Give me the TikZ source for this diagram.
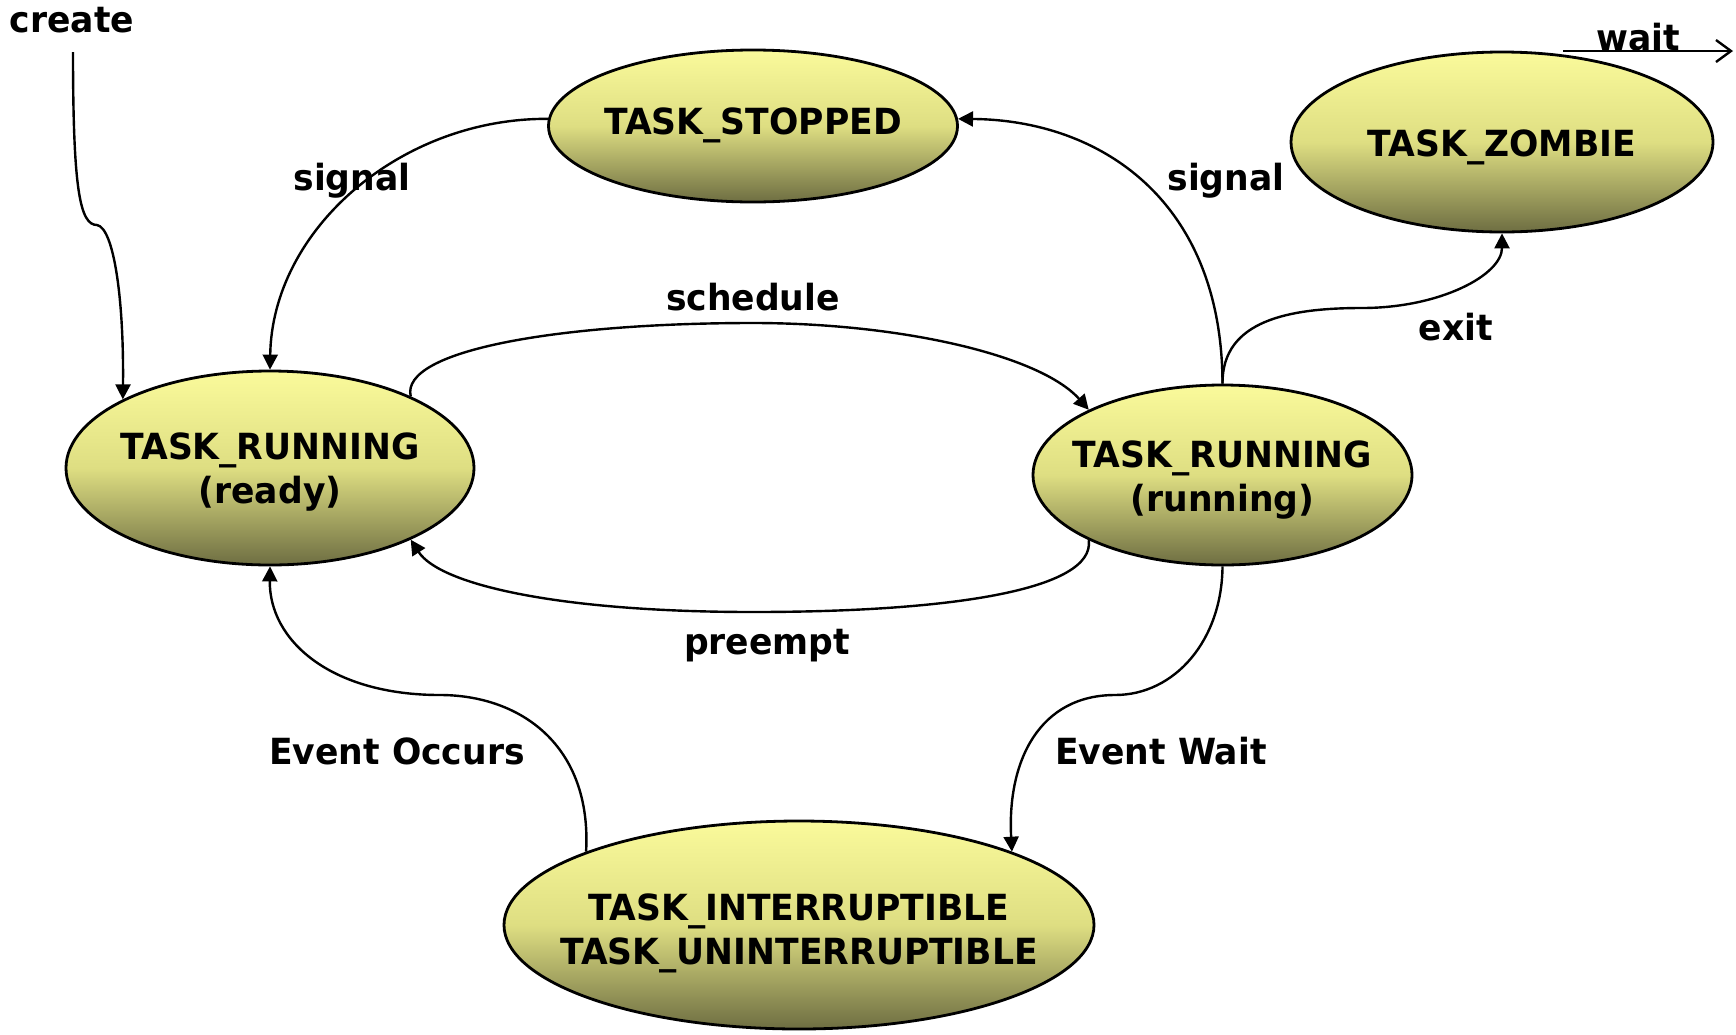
\documentclass[tikz,border=0pt]{standalone}
\usepackage{fontspec}
\setmainfont{DejaVu Sans}[FakeStretch=0.96]
\usetikzlibrary{shapes.geometric,arrows.meta}
\definecolor{stTop}{RGB}{250,250,155}
\definecolor{stMid}{RGB}{222,222,130}
\definecolor{stBot}{RGB}{110,110,66}
\begin{document}
\begin{tikzpicture}[x=1pt,y=-1pt,
  state/.style={ellipse, draw=black, line width=2.8pt, inner sep=0pt,
    top color=stTop, bottom color=stBot, middle color=stMid},
  txt/.style={font=\fontsize{36}{44}\selectfont\bfseries, align=center, inner sep=0pt},
  conn/.style={line width=2.4pt, -{Triangle[length=15pt,width=15pt]}}]
\useasboundingbox (0,0) rectangle (1736,1034);

% states
\node[state, minimum width=409pt, minimum height=152pt] (stopped) at (753,126) {};
\node[state, minimum width=422pt, minimum height=180pt] (zombie) at (1502,142) {};
\node[state, minimum width=408pt, minimum height=194pt] (ready) at (270,468) {};
\node[state, minimum width=379pt, minimum height=180pt] (running) at (1222.5,475) {};
\node[state, minimum width=590pt, minimum height=208pt] (blocked) at (799,925) {};

\node[txt] (stoppedT) at (753,125.5) {TASK\_STOPPED};
\node[txt] (zombieT) at (1502,147.5) {TASK\_ZOMBIE};
\node[txt] (readyT) at (270,472) {TASK\_RUNNING\\(ready)};
\node[txt] (runningT) at (1222.5,480) {TASK\_RUNNING\\(running)};
\node[txt] (blockedT) at (799,933.5) {TASK\_INTERRUPTIBLE\\TASK\_UNINTERRUPTIBLE};

% transition labels
\node[txt] (lcreate) at (72,20) {create};
\node[txt] (lwait) at (1638,37) {wait};
\node[txt] (lsig1) at (352,180.5) {signal};
\node[txt] (lsig2) at (1226,180.5) {signal};
\node[txt] (lsched) at (753,297) {schedule};
\node[txt] (lexit) at (1456,327) {exit};
\node[txt] (lpre) at (767,646) {preempt};
\node[txt] (locc) at (397,751) {Event Occurs};
\node[txt] (lwt) at (1161,751) {Event Wait};

% transitions
\coordinate (c0) at (73,52);
\draw[conn] (c0) .. controls (73,190) and (80,225) .. (97,225)
  .. controls (114,228) and (124,300) .. (ready.155);

\coordinate (w0) at (1563,51);
\coordinate (w1) at (1733,51);
\draw[line width=2.4pt, -{Straight Barb[length=15pt,width=22pt]}] (w0) -- (w1);

\draw[conn] (stopped.178) .. controls (400,118) and (272,230) .. (ready.north);
\draw[conn] (running.north) .. controls (1222,200) and (1100,120) .. (stopped.2);
\draw[conn] (running.north) .. controls (1222,320) and (1290,308) .. (1362,308)
  .. controls (1440,308) and (1502,275) .. (zombie.south);

\draw[conn] (ready.27) .. controls (400,350) and (560,323) .. (753,323)
  .. controls (900,323) and (1040,355) .. (running.154);
\draw[conn] (running.206) .. controls (1095,590) and (950,612) .. (753,612)
  .. controls (560,612) and (440,585) .. (ready.333);

\draw[conn] (blocked.161) .. controls (592,745) and (520,695) .. (440,695)
  .. controls (330,695) and (269,640) .. (ready.south);
\draw[conn] (running.south) .. controls (1222,640) and (1175,695) .. (1115,695)
  .. controls (1040,695) and (1007,760) .. (blocked.19);
\end{tikzpicture}
\end{document}
